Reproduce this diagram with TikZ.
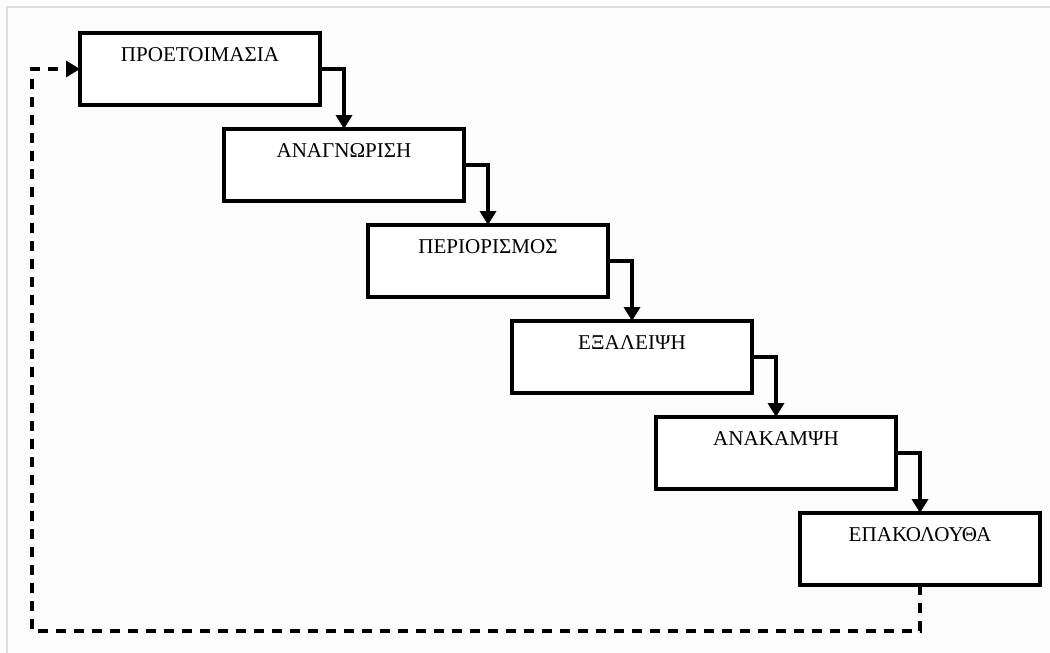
\documentclass[tikz,border=0pt]{standalone}
\usepackage{fontspec}
\setmainfont{Liberation Serif}
\usetikzlibrary{arrows.meta}
\definecolor{framegray}{HTML}{DDDDDD}
\definecolor{paper}{HTML}{FDFDFD}
\begin{document}
\begin{tikzpicture}[x=0.75pt,y=-0.75pt,
  stage/.style={draw=black, line width=2.5pt, fill=white, rectangle,
    minimum width=180pt, minimum height=54pt, inner sep=0pt, outer sep=0pt},
  stagetext/.style={font=\fontsize{15.8}{18}\selectfont, inner sep=0pt,
    anchor=north, yshift=-11pt},
  flow/.style={draw=black, line width=2.5pt,
    -{Triangle[length=10.5pt,width=12pt]}},
  feedback/.style={draw=black, line width=2.5pt, dash pattern=on 7.5pt off 6pt,
    -{Triangle[length=10.5pt,width=12pt]}}]
  % canvas and its light frame on the top and left edges
  \fill[paper] (0,0) rectangle (1050,653);
  \useasboundingbox (0,0) rectangle (1050,653);
  \draw[framegray, line width=1.5pt] (7,653) -- (7,7) -- (1050,7);

  % the six stages, stepping down to the right
  \node[stage, label={[stagetext]north:ΠΡΟΕΤΟΙΜΑΣΙΑ}] (s1) at (200,69) {};
  \node[stage, label={[stagetext]north:ΑΝΑΓΝΩΡΙΣΗ}]   (s2) at (344,165) {};
  \node[stage, label={[stagetext]north:ΠΕΡΙΟΡΙΣΜΟΣ}]  (s3) at (488,261) {};
  \node[stage, label={[stagetext]north:ΕΞΑΛΕΙΨΗ}]     (s4) at (632,357) {};
  \node[stage, label={[stagetext]north:ΑΝΑΚΑΜΨΗ}]     (s5) at (776,453) {};
  \node[stage, label={[stagetext]north:ΕΠΑΚΟΛΟΥΘΑ}]   (s6) at (920,549) {};

  % connectors from each stage to the next
  \draw[flow] (s1.east) -| (s2.north);
  \draw[flow] (s2.east) -| (s3.north);
  \draw[flow] (s3.east) -| (s4.north);
  \draw[flow] (s4.east) -| (s5.north);
  \draw[flow] (s5.east) -| (s6.north);

  % dashed return path back to the first stage
  \coordinate (loopcorner) at (32,631);
  \draw[feedback] (s6.south) |- (loopcorner) |- (s1.west);
\end{tikzpicture}
\end{document}
